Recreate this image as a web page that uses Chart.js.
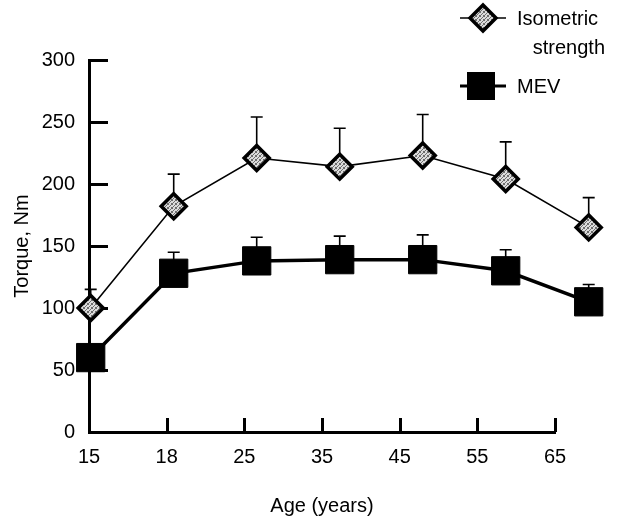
<!DOCTYPE html>
<html>
<head>
<meta charset="utf-8">
<script src="https://cdn.jsdelivr.net/npm/chart.js@4/dist/chart.umd.min.js"></script>
<style>
  body { margin: 0; background: #fff; }
  #wrap { width: 619px; height: 520px; }
</style>
</head>
<body>
<div id="wrap"><canvas id="c" width="619" height="520"></canvas></div>
<script>
const ages = ["15", "18", "25", "35", "45", "55", "65"];
const isoMean = [100, 182, 221, 214, 223, 204, 165];
const isoSd = [15, 26, 33, 31, 33, 30, 24];
const mevMean = [60, 128, 138, 139, 139, 130, 105];
const mevSd = [0, 17, 19, 19, 20, 17, 14];

const FONT = "'Liberation Sans', Arial, sans-serif";
Chart.defaults.color = "#000";
Chart.defaults.font.family = FONT;
Chart.defaults.font.size = 20;

const canvas = document.getElementById("c");
const ctx0 = canvas.getContext("2d");

// speckled grey fill for the diamonds
const pc = document.createElement("canvas");
pc.width = 4; pc.height = 4;
const pg = pc.getContext("2d");
pg.fillStyle = "#dcdcdc";
pg.fillRect(0, 0, 4, 4);
pg.fillStyle = "#6e6e6e";
[[0, 0], [2, 1], [1, 2], [3, 3], [3, 0], [0, 3]].forEach(p => pg.fillRect(p[0], p[1], 1, 1));
const grey = ctx0.createPattern(pc, "repeat");

const pts = arr => arr.map((v, i) => ({ x: i, y: v }));

// upward error bars, drawn under the markers
const errorBars = {
  id: "errorBars",
  beforeDatasetsDraw(chart) {
    const ctx = chart.ctx, y = chart.scales.y;
    ctx.save();
    ctx.strokeStyle = "#000";
    ctx.lineWidth = 1.6;
    chart.data.datasets.forEach((ds, di) => {
      chart.getDatasetMeta(di).data.forEach((el, i) => {
        const sd = ds.errors[i];
        if (!sd) return;
        const top = y.getPixelForValue(ds.data[i].y + sd);
        ctx.beginPath();
        ctx.moveTo(el.x, el.y);
        ctx.lineTo(el.x, top);
        ctx.moveTo(el.x - 6, top);
        ctx.lineTo(el.x + 6, top);
        ctx.stroke();
      });
    });
    ctx.restore();
  }
};

// tick marks pointing into the plot
const innerTicks = {
  id: "innerTicks",
  beforeDatasetsDraw(chart) {
    const ctx = chart.ctx, { x, y } = chart.scales;
    const area = chart.chartArea;
    ctx.save();
    ctx.strokeStyle = "#000";
    ctx.lineWidth = 3;
    ctx.beginPath();
    y.ticks.forEach(t => {
      const py = Math.round(y.getPixelForValue(t.value)) + 0.5;
      if (t.value === 0) return;
      ctx.moveTo(area.left, py);
      ctx.lineTo(area.left + 19, py);
    });
    x.ticks.forEach((t, i) => {
      if (i === 0) return;
      const px = Math.round(x.getPixelForTick(i)) + 0.5;
      ctx.moveTo(px, area.bottom);
      ctx.lineTo(px, area.bottom - 14);
    });
    ctx.stroke();
    ctx.restore();
  }
};

// the last age group sits past the end of the drawn axis; let its marker show
const widenArea = {
  id: "widenArea",
  beforeDatasetsDraw(chart) {
    chart._savedRight = chart.chartArea.right;
    chart.chartArea.right = chart.width;
  },
  afterDatasetsDraw(chart) {
    chart.chartArea.right = chart._savedRight;
  }
};

// legend in the top right corner
const cornerLegend = {
  id: "cornerLegend",
  afterDraw(chart) {
    const ctx = chart.ctx;
    ctx.save();
    ctx.strokeStyle = "#000";
    // isometric entry
    ctx.lineWidth = 1.6;
    ctx.beginPath();
    ctx.moveTo(460, 18); ctx.lineTo(506, 18);
    ctx.stroke();
    ctx.beginPath();
    ctx.moveTo(483, 5); ctx.lineTo(496, 18); ctx.lineTo(483, 31); ctx.lineTo(470, 18);
    ctx.closePath();
    ctx.fillStyle = grey;
    ctx.fill();
    ctx.lineWidth = 3.5;
    ctx.stroke();
    // MEV entry
    ctx.lineWidth = 3;
    ctx.beginPath();
    ctx.moveTo(460, 86); ctx.lineTo(506, 86);
    ctx.stroke();
    ctx.fillStyle = "#000";
    ctx.fillRect(467, 72, 28, 28);
    ctx.font = "20px " + FONT;
    ctx.textBaseline = "middle";
    ctx.textAlign = "left";
    ctx.fillText("Isometric", 517, 19);
    ctx.fillText("MEV", 517, 87);
    ctx.textAlign = "right";
    ctx.fillText("strength", 605, 48);
    ctx.restore();
  }
};

new Chart(canvas, {
  type: "line",
  data: {
    labels: ages,
    datasets: [
      {
        label: "Isometric strength",
        data: pts(isoMean),
        errors: isoSd,
        xAxisID: "xd",
        borderColor: "#000",
        borderWidth: 1.6,
        pointStyle: "rectRot",
        pointRadius: 12.5,
        pointBackgroundColor: grey,
        pointBorderColor: "#000",
        pointBorderWidth: 3.5,
        clip: false
      },
      {
        label: "MEV",
        data: pts(mevMean),
        errors: mevSd,
        xAxisID: "xd",
        borderColor: "#000",
        borderWidth: 3.5,
        pointStyle: "rect",
        pointRadius: 20,
        pointBackgroundColor: "#000",
        pointBorderColor: "#000",
        pointBorderWidth: 1,
        clip: false
      }
    ]
  },
  options: {
    responsive: false,
    animation: false,
    layout: { padding: { top: 60, right: 64, left: 0, bottom: 0 } },
    plugins: { legend: { display: false }, tooltip: { enabled: false } },
    scales: {
      x: {
        type: "category",
        position: "bottom",
        offset: false,
        grid: { display: false },
        border: { color: "#000", width: 3 },
        ticks: { padding: 5, maxRotation: 0, autoSkip: false },
        title: { display: true, text: "Age (years)", padding: { top: 0, bottom: 2 } },
        afterFit: s => { s.height = 88; }
      },
      xd: {
        type: "linear",
        display: false,
        min: -0.0205,
        max: 5.594
      },
      y: {
        min: 0, max: 300,
        grid: { display: false },
        border: { color: "#000", width: 3 },
        ticks: { stepSize: 50, padding: 6 },
        title: { display: true, text: "Torque, Nm", padding: { top: 10, bottom: 0 } },
        afterFit: s => { s.width = 89; }
      }
    }
  },
  plugins: [errorBars, innerTicks, widenArea, cornerLegend]
});
</script>
</body>
</html>
